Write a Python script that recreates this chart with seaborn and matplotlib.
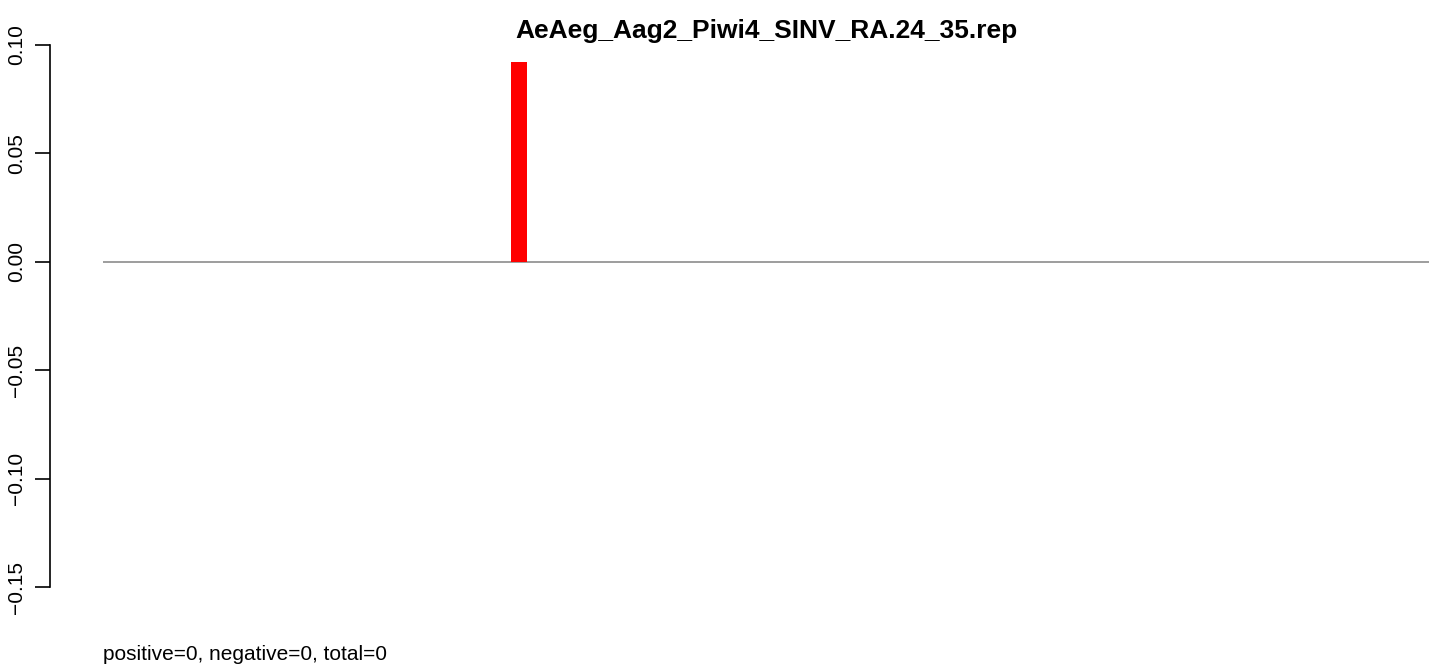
import pandas as pd
import seaborn as sns
import matplotlib.pyplot as plt

# data
positions = list(range(1, 67))
ratios = [0.0, 0.0, 0.0, 0.0, 0.0, 0.0, 0.0, 0.0, 0.0, 0.0,
          0.0, 0.0, 0.0, 0.0, 0.0, 0.0, 0.0, 0.0, 0.0, 0.0,
          0.092, 0.0, 0.0, 0.0, 0.0, 0.0, 0.0, 0.0, 0.0, 0.0,
          0.0, 0.0, 0.0, 0.0, 0.0, 0.0, 0.0, 0.0, 0.0, 0.0,
          0.0, 0.0, 0.0, 0.0, 0.0, 0.0, 0.0, 0.0, 0.0, 0.0,
          0.0, 0.0, 0.0, 0.0, 0.0, 0.0, 0.0, 0.0, 0.0, 0.0,
          0.0, 0.0, 0.0, 0.0, 0.0, 0.0]
yticks = [-0.15, -0.10, -0.05, 0.00, 0.05, 0.10]
title = "AeAeg_Aag2_Piwi4_SINV_RA.24_35.rep"
summary = "positive=0, negative=0, total=0"

df = pd.DataFrame({"pos": positions, "ratio": ratios})

sns.set_style("white")
plt.rcParams['font.family'] = ['Liberation Sans', 'DejaVu Sans']
plt.rcParams['text.color'] = 'black'
plt.rcParams['ytick.color'] = 'black'

W, H = 1429, 666
fig = plt.figure(figsize=(W / 100, H / 100), dpi=100)
ax = fig.add_axes([50 / W, (H - 587) / H, 1 - 50 / W, (587 - 45) / H])

sns.barplot(data=df, x="pos", y="ratio", color="#ff0000", saturation=1,
            width=0.79, linewidth=0, ax=ax)
ax.hlines(0, -0.5, len(positions) - 0.5, color="#8c8c8c", lw=1.2, zorder=0)

ax.set_xlim(-3.11, 64.82)
ax.set_ylim(-0.15, 0.10)
ax.set_xticks([])
ax.set_xlabel("")
ax.set_ylabel("")
ax.set_yticks(yticks)
ax.set_yticklabels(["\u22120.15", "\u22120.10", "\u22120.05", "0.00", "0.05", "0.10"],
                   rotation=90, va="center", fontsize=15, color="black")
ax.tick_params(axis="y", length=11, width=1.2, color="black", pad=6, left=True)
for s in ["top", "right", "bottom"]:
    ax.spines[s].set_visible(False)
ax.spines["left"].set_bounds(-0.15, 0.10)
ax.spines["left"].set_linewidth(1.2)
ax.spines["left"].set_color("black")
ax.patch.set_alpha(0)

fig.text(766 / W, 1 - 31 / H, title, ha="center", va="center",
         fontsize=19, fontweight="bold", color="black")
fig.text(103 / W, 1 - 655 / H, summary, ha="left", va="center",
         fontsize=15, color="black")

fig.savefig("out.png", dpi=100)
